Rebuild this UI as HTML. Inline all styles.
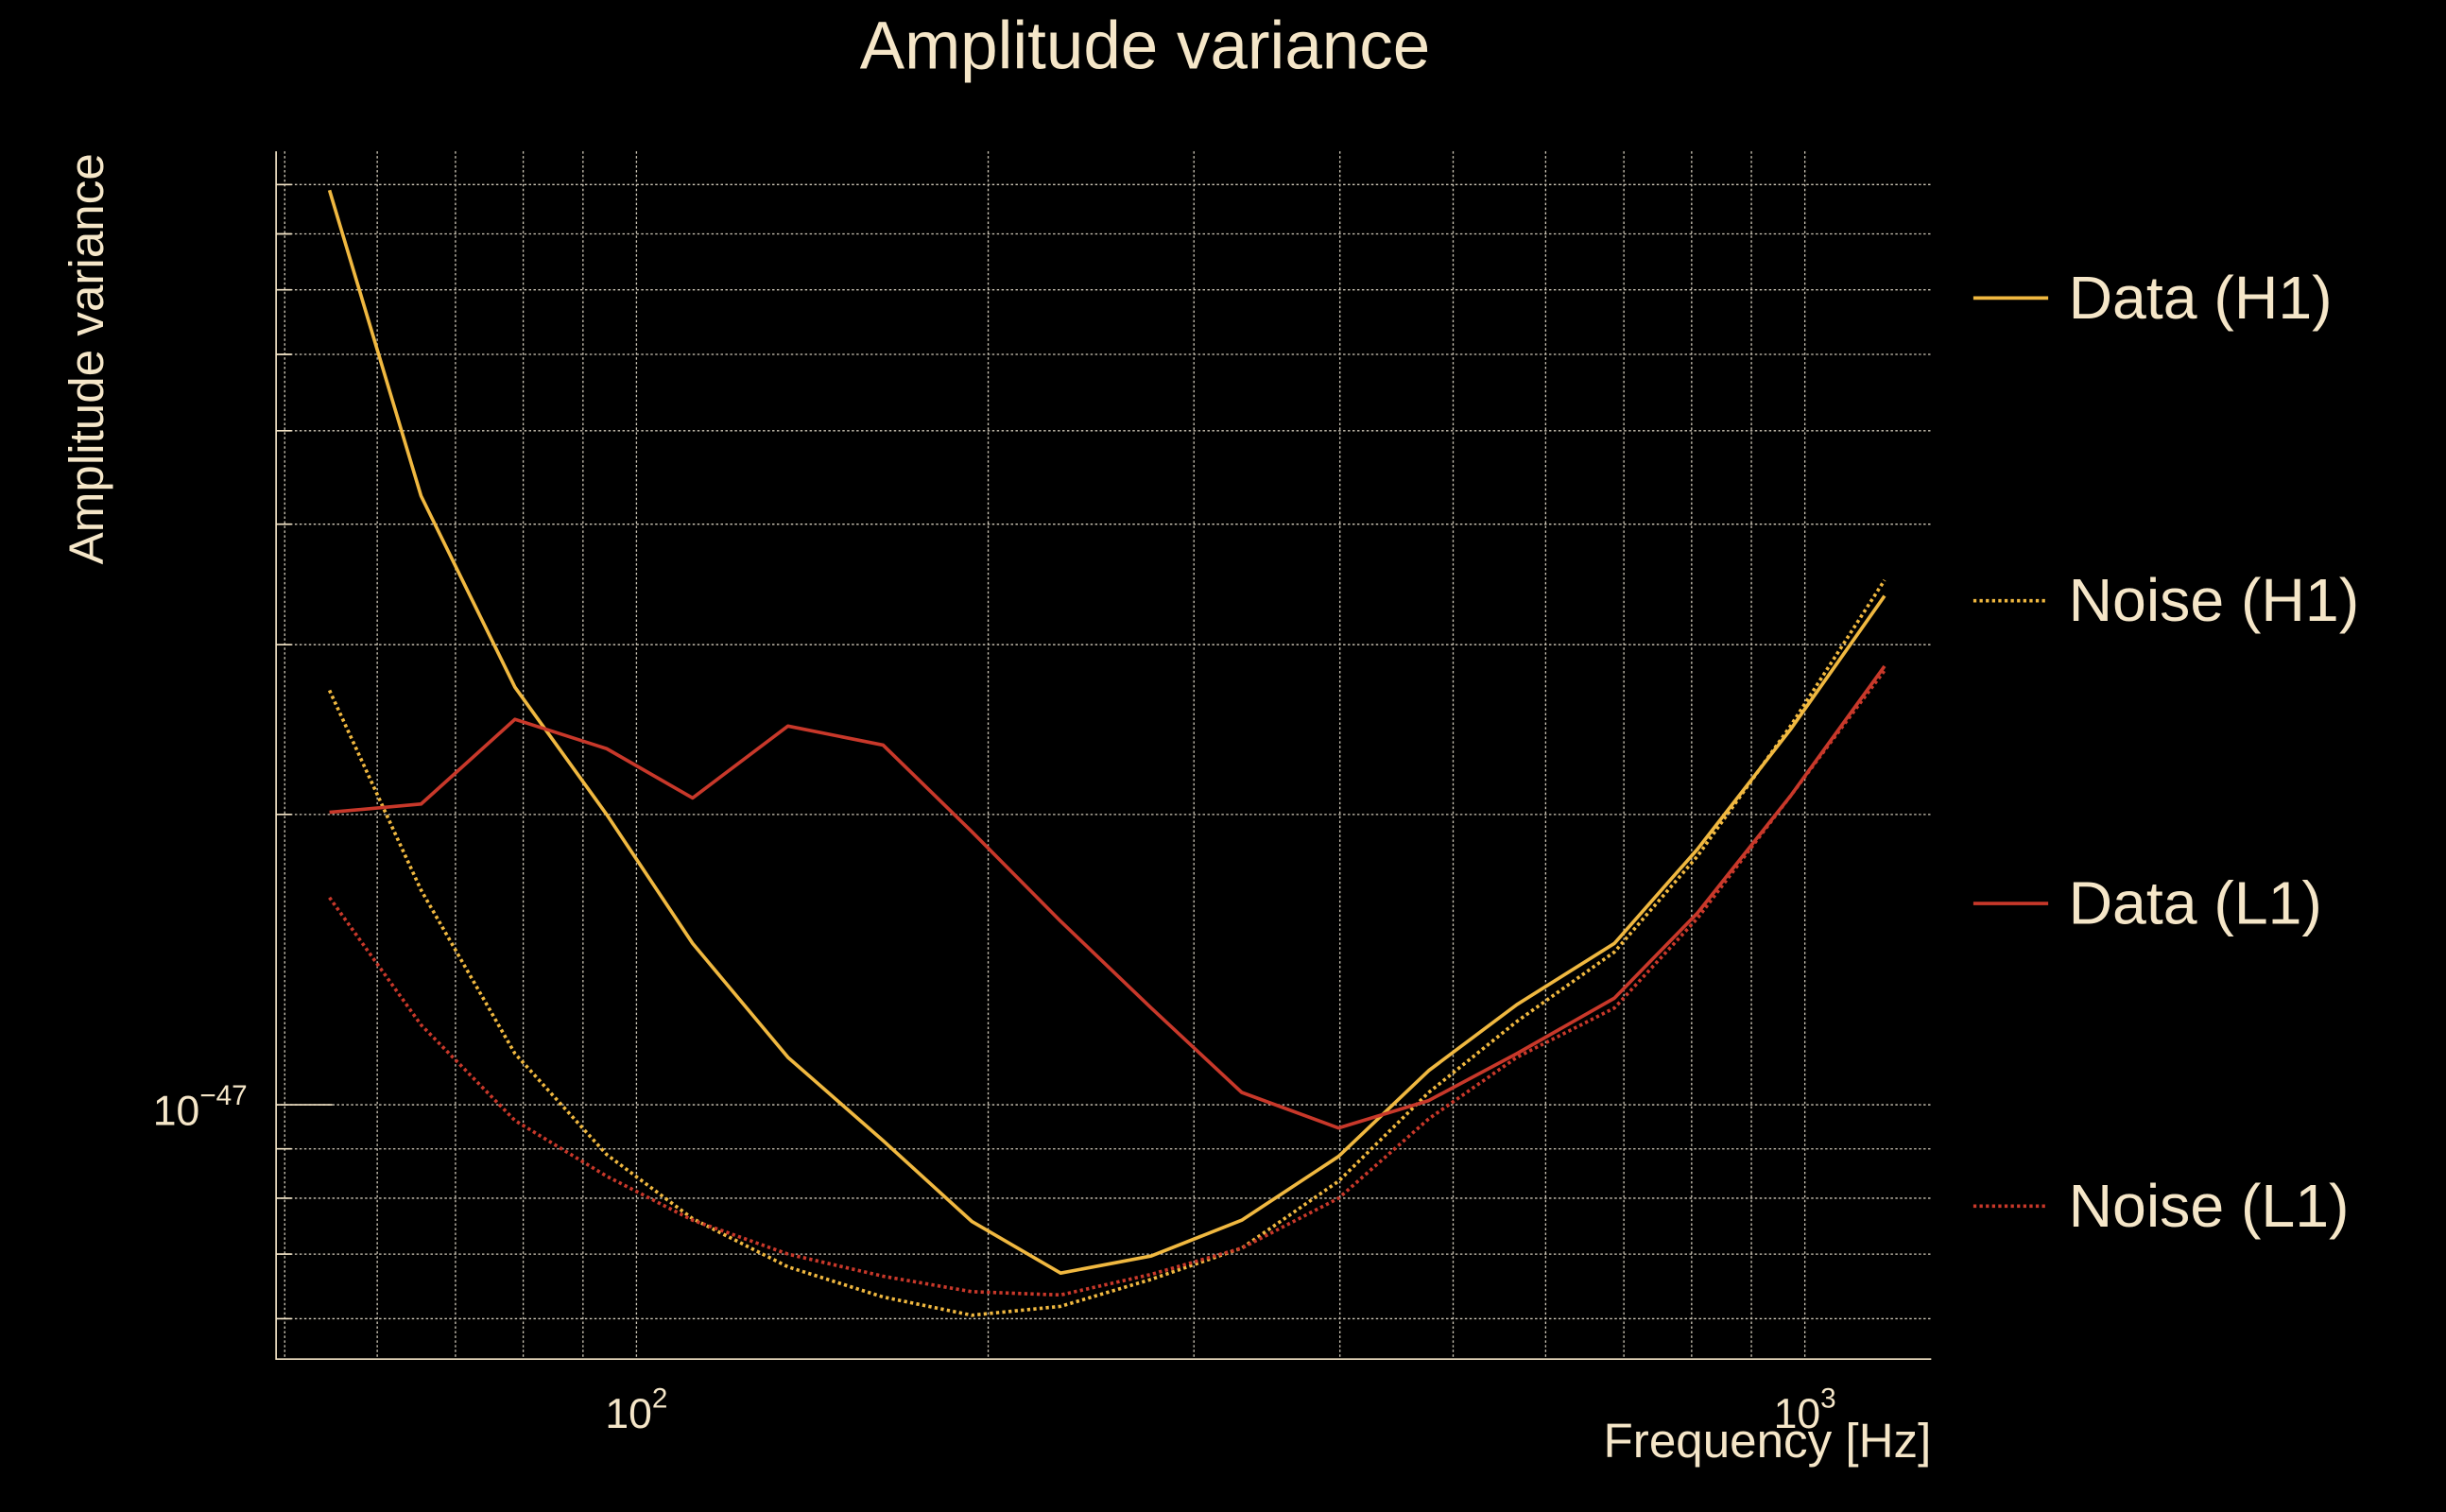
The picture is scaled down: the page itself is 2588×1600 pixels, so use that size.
<!DOCTYPE html>
<html><head><meta charset="utf-8"><style>
html,body{margin:0;padding:0;background:#000;}
svg{display:block;font-family:"Liberation Sans",sans-serif;}
</style></head><body>
<svg id="chart" width="2588" height="1600" viewBox="0 0 1568 969" preserveAspectRatio="none" xmlns="http://www.w3.org/2000/svg">
<rect width="1568" height="969" fill="#000"/>
<text x="734" y="44" font-size="43" fill="#f5e6c8" text-anchor="middle">Amplitude variance</text>
<text transform="translate(66,230) rotate(-90)" font-size="31" fill="#f5e6c8" text-anchor="middle">Amplitude variance</text>
<text x="1238" y="934" font-size="31" fill="#f5e6c8" text-anchor="end">Frequency [Hz]</text>
<g id="grid"></g>
<g id="series"></g>
<g id="legend"></g>
</svg>
<script>
const freqs=[54.6,65.4,78.7,94.3,111.7,134.8,162.6,193.6,230.7,275.8,329.6,399,476.6,567,687,809,972,1170];
const dataH1=[8.88,4.28,2.71,2.0,1.47,1.12,0.918,0.757,0.669,0.697,0.759,0.884,1.085,1.27,1.47,1.84,2.45,3.37];
const noiseH1=[2.69,1.67,1.13,0.888,0.762,0.679,0.632,0.605,0.618,0.659,0.71,0.833,1.03,1.22,1.44,1.81,2.47,3.5];
const dataL1=[2.01,2.05,2.51,2.34,2.08,2.47,2.36,1.92,1.55,1.26,1.03,0.946,1.01,1.13,1.29,1.58,2.09,2.85];
const noiseL1=[1.64,1.21,0.963,0.843,0.759,0.70,0.664,0.64,0.635,0.667,0.71,0.8,0.967,1.12,1.26,1.56,2.09,2.82];
const xGridVals=[50,60,70,80,90,100,200,300,400,500,600,700,800,900,1000];
const yGridVals=[0.6,0.7,0.8,0.9,1,2,3,4,5,6,7,8,9];
const xTickLabels=[[100,"2"],[1000,"3"]];
const yTickLabels=[[1,"−47"]];
const NS="http://www.w3.org/2000/svg";
const L=177,R=1238,T=97,B=871;
function xs(f){return 408+749*(Math.log10(f)-2);}
function ys(v){return 708-618*Math.log10(v);}
function mk(tag,attrs,parent){const e=document.createElementNS(NS,tag);for(const k in attrs)e.setAttribute(k,attrs[k]);parent.appendChild(e);return e;}
const grid=document.getElementById('grid');
xGridVals.forEach(f=>{const x=xs(f);if(x<L)return;
 const l=mk('line',{x1:x,x2:x,y1:T,y2:B,stroke:'#cfc8b8','stroke-width':0.8,'stroke-dasharray':'1.5,1.5'},grid);
 
 });
yGridVals.forEach(v=>{const y=ys(v);
 const l=mk('line',{x1:L,x2:R,y1:y,y2:y,stroke:'#cfc8b8','stroke-width':0.8,'stroke-dasharray':'1.5,1.5'},grid);
 
 
 const t=mk('line',{x1:L,x2:L+(v==1?36:10),y1:y,y2:y,stroke:'#f5e6c8','stroke-width':1},grid);
 
 });
const ax=mk('path',{d:`M${L} ${T}V${B}H${R}`,fill:'none',stroke:'#f5e6c8','stroke-width':1},grid);


xTickLabels.forEach(([f,e])=>{const t=mk('text',{x:xs(f),y:915,'font-size':27,fill:'#f5e6c8','text-anchor':'middle'},grid);
 
 
 t.innerHTML='10<tspan font-size="18" dy="-13">'+e+'</tspan>';});
yTickLabels.forEach(([v,e])=>{const t=mk('text',{x:98,y:ys(v)+13,'font-size':27,fill:'#f5e6c8'},grid);
 
 
 t.innerHTML='10<tspan font-size="18" dy="-13">'+e+'</tspan>';});
const series=[["data-h1",dataH1,"#f0b840",null,"Data (H1)",191],["noise-h1",noiseH1,"#f0b840","2,2","Noise (H1)",385],["data-l1",dataL1,"#c8382a",null,"Data (L1)",579],["noise-l1",noiseL1,"#c8382a","2,2","Noise (L1)",773]];
const sg=document.getElementById('series'),lg=document.getElementById('legend');
series.forEach(([n,vals,c,dash,label,ly])=>{
 const d=vals.map((v,i)=>(i?'L':'M')+xs(freqs[i]).toFixed(1)+' '+ys(v).toFixed(1)).join('');
 const a={d:d,fill:'none',stroke:c,'stroke-width':2.2,'stroke-linejoin':'round'};if(dash)a['stroke-dasharray']=dash;
 const p=mk('path',a,sg);
 
 
 const g=mk('g',{},lg);
 
 
 const la={x1:1265,x2:1313,y1:ly,y2:ly,stroke:c,'stroke-width':2.2};if(dash)la['stroke-dasharray']=dash;
 mk('line',la,g);
 const t=mk('text',{x:1326,y:ly+13,'font-size':39,fill:'#f5e6c8'},g);
 t.textContent=label;});
</script>
</body></html>
